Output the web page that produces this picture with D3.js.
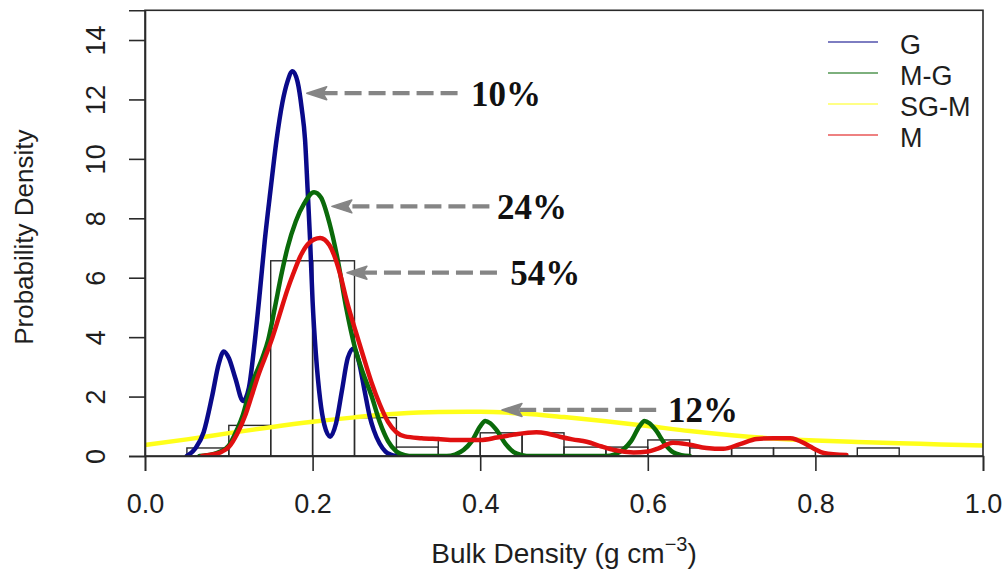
<!DOCTYPE html>
<html>
<head>
<meta charset="utf-8">
<script src="https://cdn.jsdelivr.net/npm/d3@7/dist/d3.min.js"></script>
<style>
  html, body { margin: 0; padding: 0; background: #fff; }
  svg { display: block; }
</style>
</head>
<body>
<svg id="chart" width="1005" height="577"></svg>
<script>
// ---- data ----
// histogram: bin lower edges (width 0.05) and density heights
const binStarts = [0.05, 0.10, 0.15, 0.20, 0.25, 0.30, 0.35, 0.40, 0.45, 0.50, 0.55, 0.60, 0.65, 0.70, 0.75, 0.80, 0.85];
const binDensity = [0.27, 1.03, 6.57, 6.57, 1.29, 0.30, 0.54, 0.78, 0.78, 0.30, 0.30, 0.54, 0.27, 0.27, 0.27, 0, 0.27];
const binWidth = 0.05;

// kernel density curves (x, density)
const seriesNames = ["G", "M-G", "SG-M", "M"];
const seriesColors = ["#0a0a8a", "#0a6a0a", "#ffff1a", "#e01010"];

const densityG = [
  [0.050, 0], [0.060, 0.25], [0.070, 0.8], [0.080, 2.0], [0.088, 3.1], [0.094, 3.52], [0.100, 3.3],
  [0.108, 2.6], [0.117, 1.85], [0.124, 2.3], [0.130, 3.6], [0.137, 5.5], [0.143, 7.27], [0.150, 9.0],
  [0.157, 10.64], [0.164, 11.9], [0.170, 12.6], [0.176, 12.95], [0.182, 12.6], [0.187, 11.7],
  [0.191, 10.64], [0.194, 9.0], [0.197, 7.27], [0.200, 5.2], [0.204, 3.4], [0.209, 1.9], [0.214, 1.05],
  [0.221, 0.65], [0.228, 1.1], [0.235, 2.2], [0.242, 3.3], [0.249, 3.62], [0.255, 3.2], [0.262, 2.2],
  [0.268, 1.35], [0.273, 0.87], [0.280, 0.42], [0.287, 0.15], [0.293, 0.05], [0.300, 0]
];
const densityMG = [
  [0.065, 0], [0.080, 0.05], [0.090, 0.15], [0.100, 0.35], [0.110, 0.9], [0.117, 1.4], [0.123, 2.0],
  [0.130, 2.6], [0.140, 3.3], [0.147, 3.9], [0.155, 5.0], [0.163, 6.14], [0.170, 7.0], [0.180, 7.9],
  [0.190, 8.5], [0.2017, 8.88], [0.210, 8.7], [0.220, 7.85], [0.230, 6.6], [0.240, 5.0], [0.250, 3.7],
  [0.260, 2.8], [0.270, 2.05], [0.280, 1.15], [0.290, 0.5], [0.300, 0.15], [0.310, 0.03], [0.320, 0],
  [0.360, 0], [0.370, 0.05], [0.380, 0.2], [0.390, 0.5], [0.400, 1.0], [0.406, 1.18], [0.412, 1.1],
  [0.420, 0.85], [0.430, 0.42], [0.440, 0.13], [0.450, 0.03], [0.460, 0],
  [0.550, 0], [0.560, 0.05], [0.570, 0.2], [0.580, 0.5], [0.590, 1.0], [0.596, 1.18], [0.602, 1.1],
  [0.610, 0.85], [0.620, 0.42], [0.630, 0.13], [0.640, 0.03], [0.650, 0]
];
const densitySGM = [
  [0.00, 0.37], [0.05, 0.56], [0.10, 0.77], [0.15, 0.97], [0.20, 1.15], [0.25, 1.30], [0.30, 1.42],
  [0.35, 1.48], [0.40, 1.49], [0.45, 1.43], [0.50, 1.31], [0.55, 1.17], [0.60, 1.01], [0.65, 0.84],
  [0.70, 0.70], [0.75, 0.59], [0.80, 0.52], [0.85, 0.47], [0.90, 0.43], [0.95, 0.39], [1.00, 0.35]
];
const densityM = [
  [0.068, 0], [0.080, 0.05], [0.090, 0.12], [0.100, 0.3], [0.110, 0.75], [0.120, 1.4], [0.127, 2.0],
  [0.135, 2.7], [0.143, 3.3], [0.151, 3.9], [0.160, 4.7], [0.170, 5.6], [0.177, 6.14], [0.185, 6.7],
  [0.195, 7.15], [0.209, 7.34], [0.220, 7.1], [0.2327, 6.14], [0.240, 5.3], [0.2546, 3.9], [0.260, 3.4],
  [0.270, 2.5], [0.280, 1.75], [0.290, 1.15], [0.300, 0.8], [0.310, 0.66], [0.330, 0.6], [0.350, 0.57],
  [0.370, 0.54], [0.400, 0.54], [0.420, 0.62], [0.440, 0.72], [0.467, 0.8], [0.480, 0.76], [0.495, 0.65],
  [0.510, 0.56], [0.527, 0.48], [0.545, 0.32], [0.560, 0.2], [0.583, 0.12], [0.600, 0.15], [0.612, 0.25],
  [0.630, 0.45], [0.650, 0.38], [0.670, 0.27], [0.690, 0.24], [0.710, 0.40], [0.730, 0.57], [0.750, 0.60],
  [0.770, 0.60], [0.790, 0.38], [0.800, 0.22], [0.810, 0.10], [0.837, 0.03]
];
const seriesData = [densityG, densityMG, densitySGM, densityM];

// axis ticks
const xTickValues = [0, 0.2, 0.4, 0.6, 0.8, 1.0];
const xTickLabels = ["0.0", "0.2", "0.4", "0.6", "0.8", "1.0"];
const yTickValues = [0, 2, 4, 6, 8, 10, 12, 14];
const yTickLabels = ["0", "2", "4", "6", "8", "10", "12", "14"];

// percentage call-outs: arrow tip (data units), tail x, label x
const calloutLabels = ["10%", "24%", "54%", "12%"];
const calloutTipX = [0.193, 0.223, 0.241, 0.426];
const calloutY = [12.21, 8.40, 6.17, 1.55];
const calloutTailX = [0.373, 0.411, 0.420, 0.610];
const calloutLabelX = [0.389, 0.420, 0.436, 0.624];

// ---- layout ----
const svg = d3.select("#chart");
const plotLeft = 145, plotRight = 983, plotTop = 10.3, plotBottom = 456;
const x = d3.scaleLinear().domain([0, 1]).range([plotLeft, plotRight]);
const y = d3.scaleLinear().domain([0, 15]).range([plotBottom, plotTop]);
const sansFont = "'Liberation Sans', Arial, sans-serif";
const serifFont = "'Liberation Serif', 'Times New Roman', serif";
const inkColor = "#1e1e1e";

svg.append("defs").append("clipPath").attr("id", "plotClip")
  .append("rect").attr("x", plotLeft).attr("y", plotTop)
  .attr("width", plotRight - plotLeft).attr("height", plotBottom - plotTop);

// histogram outline bars
svg.append("g")
  .selectAll("rect")
  .data(binStarts.map((s, i) => ({ s, d: binDensity[i] })).filter(b => b.d > 0))
  .join("rect")
  .attr("x", b => x(b.s))
  .attr("y", b => y(b.d))
  .attr("width", b => x(b.s + binWidth) - x(b.s))
  .attr("height", b => y(0) - y(b.d))
  .attr("fill", "none")
  .attr("stroke", "#2a2a2a")
  .attr("stroke-width", 1.4);

// density curves
const line = d3.line().x(d => x(d[0])).y(d => y(d[1])).curve(d3.curveMonotoneX);
const curves = svg.append("g").attr("clip-path", "url(#plotClip)");
[2, 0, 1, 3].forEach(i => {
  curves.append("path")
    .datum(seriesData[i])
    .attr("d", line)
    .attr("fill", "none")
    .attr("stroke", seriesColors[i])
    .attr("stroke-width", 4.5)
    .attr("stroke-linejoin", "round")
    .attr("stroke-linecap", "round");
});

// plot frame
svg.append("rect")
  .attr("x", plotLeft).attr("y", plotTop)
  .attr("width", plotRight - plotLeft).attr("height", plotBottom - plotTop)
  .attr("fill", "none").attr("stroke", "#2a2a2a").attr("stroke-width", 1.6);

// x axis
const xAxis = svg.append("g")
  .attr("transform", `translate(0,${plotBottom})`)
  .call(d3.axisBottom(x).tickValues(xTickValues).tickSize(15).tickPadding(22)
    .tickFormat((d, i) => xTickLabels[i]));
xAxis.select(".domain").attr("stroke", "#2a2a2a").attr("stroke-width", 1.6);
xAxis.selectAll(".tick line").attr("stroke", "#2a2a2a").attr("stroke-width", 1.6);
xAxis.selectAll(".tick text")
  .attr("font-family", sansFont).attr("font-size", 27).attr("fill", inkColor)
  .attr("y", 57).attr("dy", null);

// y axis with labels turned parallel to the axis
const yAxis = svg.append("g")
  .attr("transform", `translate(${plotLeft},0)`)
  .call(d3.axisLeft(y).tickValues(yTickValues).tickSize(16)
    .tickFormat((d, i) => yTickLabels[i]));
yAxis.select(".domain").attr("stroke", "#2a2a2a").attr("stroke-width", 1.6);
yAxis.selectAll(".tick line").attr("stroke", "#2a2a2a").attr("stroke-width", 1.6);
yAxis.selectAll(".tick text")
  .attr("font-family", sansFont).attr("font-size", 27).attr("fill", inkColor)
  .attr("x", null).attr("dy", null)
  .attr("text-anchor", "middle")
  .attr("transform", "translate(-40,0) rotate(-90)");

// axis titles
const xTitle = svg.append("text")
  .attr("x", (plotLeft + plotRight) / 2).attr("y", 563)
  .attr("text-anchor", "middle")
  .attr("font-family", sansFont).attr("font-size", 28).attr("fill", inkColor);
xTitle.append("tspan").text("Bulk Density (g cm");
xTitle.append("tspan").attr("dy", -12).attr("font-size", 20).text("\u22123");
xTitle.append("tspan").attr("dy", 12).text(")");

svg.append("text")
  .attr("transform", `translate(33,${(plotTop + plotBottom) / 2 + 4}) rotate(-90)`)
  .attr("text-anchor", "middle")
  .attr("font-family", sansFont).attr("font-size", 26).attr("fill", inkColor)
  .text("Probability Density");

// call-out arrows and percentages
const callouts = svg.append("g");
calloutLabels.forEach((lab, i) => {
  const ty = y(calloutY[i]);
  const tipX = x(calloutTipX[i]);
  const tailX = x(calloutTailX[i]);
  callouts.append("line")
    .attr("x1", tailX).attr("y1", ty).attr("x2", tipX + 14).attr("y2", ty)
    .attr("stroke", "#858585").attr("stroke-width", 4.2)
    .attr("stroke-dasharray", "17,7");
  callouts.append("path")
    .attr("d", `M${tipX},${ty} L${tipX + 20},${ty - 6.5} L${tipX + 16},${ty} L${tipX + 20},${ty + 6.5} Z`)
    .attr("fill", "#858585").attr("stroke", "#858585").attr("stroke-width", 1.5)
    .attr("stroke-linejoin", "round");
  callouts.append("text")
    .attr("x", x(calloutLabelX[i])).attr("y", ty + 12.5)
    .attr("font-family", serifFont).attr("font-weight", "bold").attr("font-size", 35)
    .attr("fill", "#111")
    .text(lab);
});

// legend
const legend = svg.append("g");
const legendY = [44, 75, 106, 137];
seriesNames.forEach((name, i) => {
  legend.append("line")
    .attr("x1", 828).attr("x2", 878).attr("y1", legendY[i] - 2).attr("y2", legendY[i] - 2)
    .attr("stroke", seriesColors[i]).attr("stroke-width", 1.6).attr("opacity", 0.7);
  legend.append("text")
    .attr("x", 900).attr("y", legendY[i] + 9.5)
    .attr("font-family", sansFont).attr("font-size", 27).attr("fill", inkColor)
    .text(name);
});
</script>
</body>
</html>
